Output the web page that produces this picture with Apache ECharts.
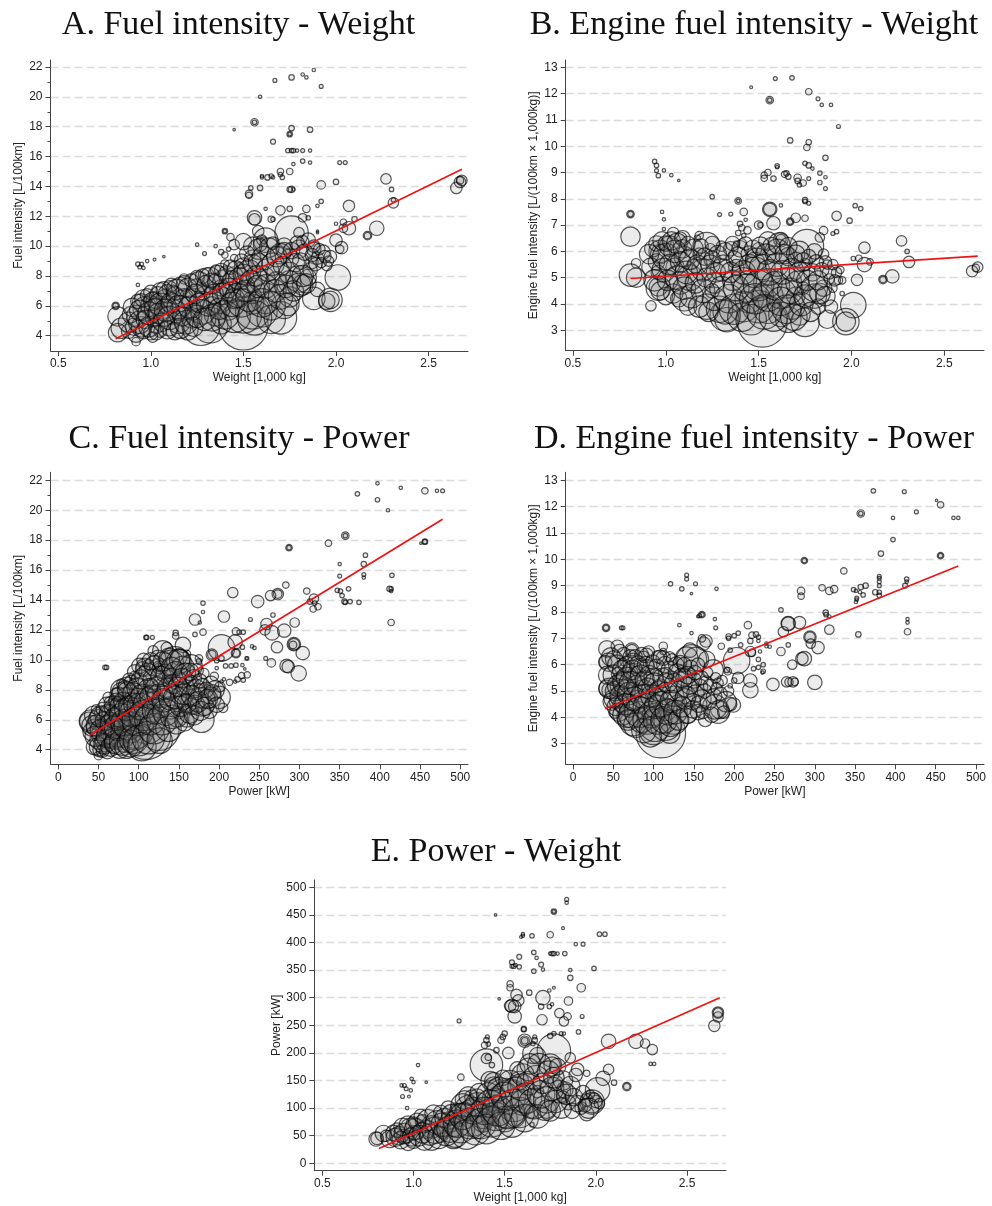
<!DOCTYPE html>
<html>
<head>
<meta charset="utf-8">
<style>html,body{margin:0;padding:0;background:#fff}#chart{width:992px;height:1206px}</style>
<script src="https://cdn.jsdelivr.net/npm/echarts@6/dist/echarts.min.js"></script>
</head>
<body>
<div id="chart"></div>
<script>
// each point: [x, y, sales]
const pointsA = [
[1.88,21.8,9],[1.82,21.5,9],[1.84,21.3,9],[1.76,21.3,25],[1.67,21.1,12],[1.92,20.7,12],[1.59,20,9],[1.56,18.3,49],[1.56,18.3,16],[1.45,17.8,4],[1.76,17.9,25],[1.86,17.8,25],[1.75,17.5,25],[1.75,17.5,9],[1.66,17,20],
[1.74,16.4,16],[1.76,16.4,16],[1.77,16.4,16],[1.79,16.4,9],[1.82,16.4,12],[1.86,16.4,9],[1.82,15.7,16],[1.86,15.6,9],[2.02,15.6,12],[2.05,15.6,12],[1.77,15.5,9],[1.7,15,36],[1.75,15,36],[1.7,14.8,16],[1.71,14.6,16],
[1.65,14.7,16],[1.6,14.7,9],[1.6,14.6,9],[1.63,14.6,25],[1.66,14.6,9],[2,14.3,25],[1.92,14.1,64],[2.27,14.5,100],[2.3,13.8,16],[1.76,13.8,36],[1.75,13.8,25],[1.77,13.8,9],[1.59,13.9,25],[1.54,13.9,16],[1.53,13.5,49],[1.53,13.4,36],
[1.92,13,16],[1.9,12.7,9],[2.31,13.1,16],[2.31,12.9,100],[2.65,13.9,121],[2.67,14.3,121],[2.68,14.4,100],[2.67,14.4,49],[2.07,12.7,121],[1.62,12.5,9],[1.7,12.4,81],[1.75,12.5,25],[1.84,12.5,49],[1.82,11.9,64],[1.85,11.9,16],
[1.56,11.9,196],[1.56,11.8,121],[1.65,11.8,36],[1.66,11.8,16],[2.1,11.8,25],[2.04,11.6,36],[2,11.5,9],[2.07,11.2,169],[2.04,11.2,64],[2.22,11.2,196],[2.17,10.7,64],[2.17,10.7,36],[1.9,11,4],[1.9,10.9,4],[1.76,10.9,1089],[1.8,10.9,100],[1.58,11,121],[1.4,11,25],[1.4,11,9],[1.43,10.6,49],
[1.25,10.1,9],[1.35,10,9],[1.29,9.5,12],[0.93,8.8,16],[0.95,8.8,12],[0.94,8.6,12],[0.96,8.55,9],[0.98,9,9],[1.02,9.1,6],[1.07,9.3,4],[0.93,7.4,9],[0.81,6,49],[0.81,6,25],
[0.82,5.3,361],[0.82,4.2,324],[0.84,4.5,400],[0.88,4.3,196],[0.92,3.6,64],[0.92,4.1,256],[0.95,4.6,400],[0.93,5.3,484],[0.97,5.8,576],[0.95,6.2,324],[1,6,400],[1.02,5.2,324],[1,4.2,196],[1.05,4.3,144],[1.03,4.7,256],[1.07,5.3,400],[1.08,6.5,324],[1.05,7,256],
[1.1,4.6,324],[1.12,5.6,576],[1.15,4.9,484],[1.17,6,400],[1.16,7.3,324],[1.2,4.4,400],[1.22,5.2,400],[1.23,6.4,484],[1.25,7.2,324],[1.27,4.6,1369],[1.28,5.6,576],[1.3,6.6,484],[1.32,4.7,1225],[1.33,7.5,400],[1.35,5.4,484],[1.37,6.4,676],[1.38,4.8,400],[1.4,7.6,576],[1.42,5.8,484],[1.43,6.9,400],[1.45,8,324],
[1.5,4.7,2400],[1.5,5.4,1296],[1.45,5.3,1024],[1.55,5.6,1156],[1.6,5.6,900],[1.65,5.1,784],[1.7,5.2,1024],[1.72,6,625],[1.75,6.6,400],[1.62,6.5,900],[1.55,7,625],[1.5,7.3,484],[1.6,7.8,676],[1.68,7.6,400],[1.75,7.6,484],[1.8,7.8,676],[1.82,7.4,400],[1.85,7.9,256],[1.88,6.5,484],[1.9,7.1,196],[1.95,6.3,256],[1.97,6.4,529],[1.97,6.4,289],[2.01,7.9,625],
[1.5,8.6,324],[1.55,9.2,256],[1.58,9.8,400],[1.62,10.4,576],[1.6,10.4,100],[1.61,10.4,36],[1.45,10.1,100],[1.5,10.3,256],[1.55,10,324],[1.7,9.5,400],[1.75,9.2,324],[1.72,10,256],[1.8,9.8,324],[1.82,10.3,144],[1.85,10.4,196],[1.88,9.8,196],[1.9,9.2,144],[1.93,9.6,196],[1.97,9.3,144],[1.95,8.7,100],[1.87,8.9,144],[2,10.4,144],[2.03,9.9,144],[2.02,9.8,64],
[1.38,9.6,25],[1.4,9.4,36],[1.42,9.8,16],[1.45,9.2,49],[1.4,8.8,64],[1.48,8.7,36],[1.3,8,256],[1.25,7.9,196],[1.18,7.8,100],[1.1,7.2,196],[1.35,8.4,100],[1.02,6.4,256],[1.08,6,196],[1.12,7,121],[1.55,6.2,484],[1.45,6.5,400],[1.38,7.2,256],[1.28,6.9,225],[1.2,6.6,256],[1.33,6,324],[1.23,5.6,256],[1.15,5.5,196],
[0.88,4.9,400],[0.89,5.4,256],[0.9,5.9,324],[0.91,4.6,289],[0.93,6.3,196],[0.94,4.9,484],[0.94,5.7,400],[0.96,6.5,289],[0.96,4.3,225],[0.97,5.1,324],[0.98,6.7,169],[0.99,4.6,400],[0.99,5.5,484],[1,6.9,196],[1.01,3.9,100],[1.01,6.3,324],[1.02,5.8,400],[1.03,4.2,196],[1.04,6.7,289],[1.04,5.5,400],[1.05,6.1,484],[1.06,4.9,324],[1.07,7.1,225],[1.08,5.7,484],[1.09,4.4,324],[1.09,6.8,324],[1.1,5.2,529],[1.11,6.2,400],[1.11,7.4,169],[1.13,4.3,289],[1.13,6.7,289],[1.14,7.1,400],[1.15,5.9,529],[1.16,4.5,400],[1.17,5.3,361],[1.18,6.5,361],[1.18,7.5,225],[1.19,4.9,529],[1.2,7.2,361],[1.21,5.9,484],[1.22,7.7,169],[1.23,4.6,361],[1.24,6.8,361],[1.25,5.3,484],[1.26,7.6,400],[1.26,6.2,361],[1.28,8,196],[1.29,5.1,484],[1.3,7.4,361],[1.31,6.1,529],[1.32,7.9,400],[1.33,5.2,676],[1.34,6.8,361],[1.35,7.6,256],[1.36,8.1,324],[1.37,5.8,441],[1.38,8.4,169],[1.39,6.8,441],[1.4,5.4,784],[1.41,8.1,289],[1.42,7.2,361],[1.43,8.6,196],[1.44,6.1,576],[1.44,7.7,361],[1.46,8.4,324],[1.47,6.7,576],[1.48,7.8,484],[1.49,6.2,784],[1.49,9,196],[1.5,8.1,400],[1.51,7,441],[1.52,9.5,225],[1.53,8.3,529],[1.53,6.5,676],[1.54,7.6,484],[1.55,8.8,361],[1.56,5.2,1156],[1.57,8,400],[1.58,7.3,484],[1.58,8.9,361],[1.59,10.1,169],[1.6,6.2,784],[1.61,9.2,529],[1.62,7.3,529],[1.63,8.4,484],[1.64,9.9,361],[1.65,6,784],[1.66,8.8,484],[1.66,10.2,144],[1.67,7,484],[1.68,9.3,400],[1.69,8.2,529],[1.7,6.6,576],[1.71,8.7,324],[1.72,9.7,256],[1.73,7.3,484],[1.74,6.1,484],[1.75,8.2,441],[1.76,9.7,256],[1.77,7,400],[1.78,8.9,324],[1.79,10.2,196],[1.8,7.4,529],[1.81,9,256],[1.82,8,441],[1.83,9.6,256],[1.84,7.5,361],[1.86,8.4,196],[1.87,9.4,169],[1.88,10,144],[1.89,8.8,169],[1.91,9.8,121],[1.92,8.9,100],[1.94,9.3,144],[1.96,9,100]
];
const pointsB = [
[1.46,12.24,6],[1.59,12.57,12],[1.68,12.6,16],[1.77,12.07,36],[1.56,11.75,49],[1.56,11.75,16],[1.82,11.8,12],[1.84,11.57,9],[1.89,11.57,9],[1.93,10.75,12],[1.67,10.22,25],[1.77,10.15,25],[1.76,9.95,36],[1.86,9.56,25],[0.94,9.42,16],[0.95,9.27,16],[0.95,9.07,12],[0.99,9.08,9],[0.96,8.88,16],[1.03,8.9,9],[1.07,8.7,4],
[1.75,9.35,16],[1.77,9.27,25],[1.79,9.15,9],[1.83,8.98,16],[1.86,8.82,9],[1.83,8.62,16],[1.86,8.39,12],[1.6,9.25,16],[1.6,9.2,9],[1.55,9,36],[1.53,8.9,36],[1.53,8.78,36],[1.58,8.77,25],[1.64,8.93,36],[1.65,8.97,25],[1.66,8.84,25],[1.71,8.8,49],[1.71,8.68,25],[1.72,8.53,16],[1.74,8.6,36],[1.77,8.77,12],
[1.25,8.08,16],[1.39,7.92,36],[1.39,7.92,9],[1.75,7.95,25],[1.75,7.9,16],[1.77,7.83,12],[1.62,7.75,9],[2.02,7.74,16],[2.05,7.63,16],[0.81,7.42,49],[0.81,7.42,25],[0.98,7.5,9],[0.99,7.22,9],[1.29,7.4,12],[1.35,7.42,12],[1.42,7.5,49],[1.56,7.6,196],[1.56,7.6,144],[1.92,7.35,81],[1.99,7.17,25],[1.7,7.28,81],[1.75,7.26,36],[1.67,7.13,49],[1.67,7.13,25],[1.58,7.07,169],
[1.9,6.68,12],[1.92,6.75,16],[1.85,6.79,64],[1.83,6.53,81],[2.27,6.4,100],[2.3,6,16],[2.07,6.14,121],[0.81,6.56,361],[2.31,5.6,121],[2.22,5.05,169],[2.17,4.93,64],[2.17,4.93,36],[2.65,5.25,121],[2.68,5.4,100],[2.67,5.37,49],[2.03,4.92,121],[2.01,3.96,625],[1.97,3.33,676],[1.97,3.33,361],[1.87,3.42,324],[1.89,3.9,169],[2.07,5.5,196],[2.1,5.6,36],[2.04,5.74,36],[2.01,5.73,16],[1.95,4.4,16],
[1.4,7.05,25],[1.41,6.9,36],[1.39,6.7,25],[1.42,6.6,16],[1.44,6.8,49],[1.5,7,64],[1.51,7,25],[1.43,7.2,9],[0.99,6.85,9],[1.04,6.7,121],[1.09,6.5,225],[1.08,6.5,144],[1.18,6.6,64],[1.17,6.5,36],[1.22,6.2,729],
[1.52,3.3,2400],[1.32,3.55,900],[1.32,3.7,576],[1.42,3.9,900],[1.22,3.9,625],[1.1,4.2,576],[1.08,4.8,484],[0.96,4.6,576],[0.96,4.65,324],[0.84,5.0,361],[0.84,5.55,81],[0.81,5.1,484],[0.92,3.93,100],[1.0,4.3,289],[1.13,5.0,625],[1.2,5.3,484],[1.26,4.8,400],[1.25,4.5,196],
[1.45,4.2,784],[1.5,3.9,1024],[1.55,3.8,784],[1.52,4.3,484],[1.62,3.6,576],[1.66,3.4,625],[1.68,3.9,625],[1.72,3.6,441],[1.75,3.3,784],[1.7,4.3,324],[1.62,4.4,900],[1.65,4.8,900],[1.8,4.3,576],[1.82,3.9,225],[1.83,4.4,400],[1.85,4.6,256],[1.74,4.6,144],[1.55,4.8,784],[1.42,4.9,625],[1.36,4.9,400],[1.3,5.3,484],
[0.97,6,484],[0.97,5.9,361],[0.95,5.6,256],[1.02,6.2,400],[0.96,5.2,196],[1.05,5.4,324],[1.1,5.8,400],[1.15,5.4,225],[1.18,5.9,144],[1.24,6.1,100],[1.3,6.2,100],[1.35,6.1,196],[1.37,5.7,256],[1.41,6.3,81],[1.38,6.3,25],[1.45,5.9,256],[1.48,5.6,361],[1.5,6.1,144],[1.55,6.4,324],[1.62,6.45,196],[1.62,6.45,100],[1.6,6,576],[1.58,5.9,256],[1.66,5.8,324],[1.7,5.7,196],[1.75,5.5,144],[1.76,6.2,1089],[1.72,6,400],[1.8,6,225],[1.86,5.6,144],[1.87,5.5,81],[1.92,5.2,100],[1.93,4.9,64],[1.9,4.6,64],[1.95,4.9,49],[1.88,4.95,100],[1.48,5.2,900],[1.38,5.4,225],[1.25,5.7,256],
[0.91,5.9,361],[0.92,5.4,324],[0.93,6.1,256],[0.94,4.9,441],[0.95,6.3,225],[0.97,4.5,324],[0.98,6.4,324],[0.99,5.3,529],[1,5.8,676],[1,6.3,225],[1.01,4.9,400],[1.02,5.5,400],[1.03,6.4,324],[1.04,4.4,361],[1.05,6,484],[1.06,5,529],[1.06,6.3,400],[1.07,4.2,256],[1.08,5.6,400],[1.09,6.1,324],[1.1,4.6,484],[1.11,5.2,484],[1.12,6.3,196],[1.12,3.9,289],[1.13,5.7,400],[1.14,4.3,529],[1.15,6.1,361],[1.16,4.8,400],[1.17,5.5,361],[1.18,3.9,441],[1.19,6.2,196],[1.2,4.5,529],[1.21,5.8,289],[1.22,5,361],[1.23,3.7,361],[1.24,5.5,361],[1.25,6.3,196],[1.26,4.2,529],[1.27,5.2,361],[1.28,5.9,289],[1.29,3.8,676],[1.3,4.6,529],[1.31,5.5,361],[1.32,6,289],[1.33,3.4,576],[1.34,4.2,784],[1.35,5.2,400],[1.36,6.3,196],[1.37,3.8,900],[1.38,4.6,625],[1.39,5.8,361],[1.4,6.1,256],[1.41,3.5,784],[1.42,5.2,529],[1.43,6.3,169],[1.44,4.6,784],[1.45,5.5,400],[1.46,3.4,900],[1.47,6.1,289],[1.48,4.2,900],[1.49,5.7,484],[1.5,4.7,900],[1.51,6.2,324],[1.52,5.4,625],[1.53,3.7,1156],[1.54,5.9,400],[1.55,4.3,900],[1.56,5.2,625],[1.57,6.2,289],[1.58,3.5,784],[1.59,4.7,784],[1.6,5.5,529],[1.61,6.3,441],[1.62,4.1,784],[1.63,5.2,529],[1.64,5.9,361],[1.65,3.8,784],[1.66,6.2,289],[1.67,4.5,625],[1.68,5.3,484],[1.69,3.5,676],[1.7,5.9,324],[1.71,4.8,529],[1.72,5.2,400],[1.73,4,529],[1.74,5.6,324],[1.75,4.3,484],[1.76,4.9,400],[1.77,5.8,196],[1.78,3.7,361],[1.79,5.2,289],[1.8,4.6,676],[1.81,5.6,196],[1.82,4.9,361],[1.84,5.3,196],[1.85,5.9,100],[1.86,4.3,361],[1.88,5.2,169],[1.9,5.5,100],[1.91,4.9,121],[1.94,5.3,49]
];
const pointsC = [
[397,21.8,9],[372,21.1,16],[397,20.7,16],[426,21.5,9],[456,21.3,36],[471,21.3,9],[478,21.3,12],[410,20,9],[357,18.3,49],[357,18.3,16],[287,17.5,36],[287,17.5,16],[336,17.8,36],[451,17.8,4],[456,17.9,25],[456,17.9,16],[382,17,16],[350,16.4,9],[380,16.4,25],[350,15.6,12],[380,15.7,12],[380,15.5,9],[415,15.65,16],
[283,15,36],[309,14.6,36],[347,14.65,16],[351,14.6,16],[353,14.3,16],[361,14.75,16],[412,14.75,25],[414,14.75,16],[414,14.6,9],[356,13.9,25],[357,13.85,16],[363,13.9,16],[374,13.85,16],[414,12.5,36],[318,14.1,81],[313,13.9,25],[319,13.8,16],[323,13.55,36],[317,13.4,36],[273,14.4,121],[273,14.4,64],[264,14.3,100],[248,13.9,144],[217,14.5,100],
[267,13,16],[239,12.7,12],[206,12.9,121],[170,12.7,121],[180,13.8,16],[180,13.2,9],[176,12.5,9],[180,11.85,36],[170,11.7,16],[146,11.8,25],[146,11.6,36],[110,11.5,16],[109,11.5,16],[117,11.5,12],[60,9.5,16],[58,9.5,16],[221,11.9,49],[225,11.85,16],[230,11.85,16],[294,12.5,81],[259,12.4,121],[257,12,100],[266,11.8,196],[281,11.95,169],[272,10.85,121],[293,11.05,169],[293,11.05,121],[292,11,49],[304,10.45,169],[265,9.8,64],[258,10.1,12],[284,9.6,169],[286,9.55,144],[299,9.1,225],
[241,10.9,9],[244,10.8,9],[235,10.1,9],[234,10.1,9],[203,10.8,676],[220,11.2,196],[221,10.45,81],[221,10.45,49],[229,10.85,16],[191,10.35,121],[191,10.35,64],[235,9,36],[228,8.95,36],[223,8.7,25],[220,8.55,9],[213,8.5,36],[230,8.65,16],[229,9.65,9],[232,9.4,4],[221,9.65,16],[215,9.6,16],[208,9.6,16],[203,10.1,25],[197,9.95,16],[197,9.45,9],[206,8.7,9],[203,8.55,9],
[155,11,225],[135,10.8,121],[130,10.6,400],[118,10.6,100],[150,10.2,256],[160,10.4,49],[175,10.1,49],[175,9.9,25],
[109,5,2400],[125,5.3,1600],[110,5.6,1296],[96,5.3,1296],[95,5,900],[85,4.9,1024],[80,5.1,784],[100,6,1024],[110,6.5,625],[65,5.2,625],[40,5.9,484],[38,5.9,324],[42,5.6,400],[50,6,400],[45,4.2,256],[50,4.2,324],[52,4,196],[50,3.6,64],[60,4.6,484],[55,5,484],[62,5.5,576],[70,4.8,484],[72,5.2,900],[75,6.6,400],[65,6.4,324],[55,6.4,256],[47,6.7,81],[45,5.5,256],[60,5.8,196],[90,5.3,625],[88,6.1,484],
[78,8,400],[70,7.2,144],[62,7.5,100],[78,7.9,289],[85,8.3,256],[72,7.7,144],[100,8.5,324],[108,9.5,324],[105,9.4,196],[112,9.7,100],[125,9.5,324],[125,9.5,144],[125,9.5,64],[145,9.9,841],[140,9.8,625],[150,9.9,576],[155,9.5,484],[165,9.6,484],[132,8,576],[132,7.9,256],[115,8.3,196],[150,7.6,256],[110,7.5,400],[100,7.5,324],[90,7.3,256],[88,8.7,144],[95,8.9,100],[85,7.6,289],[120,7.3,324],[125,6.9,484],[140,6.8,484],[150,6.4,100],[160,6.2,400],[148,6.2,400],[178,6,625],[180,7.6,576],[178,7.2,784],[190,7.5,400],[200,7.5,484],[195,8,324],[190,8.4,225],[172,7.9,256],[165,8.5,196],[150,8.7,225],[155,8.1,196],[140,9,144],[135,8.6,121],[170,7,361],[155,7.2,256],[165,6.9,256],[205,6.8,81],
[42,5.2,324],[44,6.3,324],[46,4.9,400],[48,5.6,441],[50,4.6,289],[52,6.2,400],[53,5.3,441],[55,3.9,144],[56,6.7,196],[57,4.4,400],[58,5.9,361],[60,7,225],[61,3.9,225],[62,4.9,529],[63,6.4,361],[65,4.2,361],[66,7.1,196],[67,5.7,529],[68,6.8,289],[69,4.4,361],[70,6.1,400],[72,7.3,196],[73,4.5,576],[74,5.5,676],[75,7.7,196],[76,4.1,400],[77,6.9,400],[78,6.3,529],[79,8.4,100],[80,4.5,676],[81,7.2,361],[82,5.8,676],[83,8.1,225],[84,6.7,484],[85,4.2,529],[86,7.9,361],[87,5.6,784],[88,6.9,400],[90,4.4,676],[91,8.5,196],[92,6.4,676],[93,7.8,400],[94,4.7,784],[95,9.2,196],[96,7,529],[97,5.9,784],[98,8.1,400],[100,4.6,900],[101,9.6,225],[102,6.9,676],[103,8.7,361],[104,4.2,784],[105,7.6,529],[106,10,169],[107,6.3,900],[108,8.9,400],[110,7,676],[111,9.2,289],[112,4.8,1024],[113,8,484],[114,6,900],[115,9.9,289],[116,7.5,529],[118,8.7,400],[119,5.4,900],[120,9.6,400],[121,6.6,676],[122,8.1,484],[124,10.1,256],[125,7.6,529],[126,4.6,625],[128,8.9,400],[129,6,900],[130,9.9,361],[131,7.3,529],[133,9.1,324],[134,6.5,676],[136,8.1,400],[137,5.4,625],[138,10.1,400],[139,7.4,484],[141,9.5,400],[142,6.2,529],[143,8.4,361],[145,7.5,484],[146,9.1,529],[147,5.8,484],[149,8.2,361],[151,10,400],[152,6.9,400],[154,8.8,361],[156,7.7,400],[157,5.9,361],[158,9.1,400],[160,7.1,361],[161,8.3,324],[163,6.4,361],[164,9.2,289],[166,7.6,400],[168,8.8,256],[169,6.3,361],[171,8.1,324],[172,9.3,169],[174,7.2,400],[176,8.6,196],[177,6.6,361],[179,8.2,256],[181,9.1,100],[182,6.9,324],[184,8,225],[186,7.4,361],[188,6.6,225],[192,7.8,256],[194,8.9,64],[197,7,225],[201,8.2,100]
];
const pointsD = [
[372.6,12.6,16],[411,12.57,12],[451,12.24,4],[456,12.07,36],[426,11.8,12],[397,11.57,9],[472,11.57,9],[478,11.57,9],[357,11.74,49],[357,11.74,16],[397,10.75,16],[382,10.22,25],[456,10.14,36],[456,10.14,16],[287,9.95,36],[287,9.95,16],[336,9.56,36],[141,9.4,12],[141,9.25,12],[121,9.07,16],[152,9.07,12],[135,8.88,16],[178,8.88,9],[147,8.7,4],
[380,9.35,12],[380,9.28,12],[380,9.15,12],[380,9,12],[414,9.25,16],[414,9.15,9],[412,9,20],[363,9,25],[357,8.95,25],[348,8.85,16],[351,8.8,9],[356,8.75,9],[360,8.65,16],[375,8.75,25],[380,8.75,16],[380,8.63,16],[309,8.92,36],[324,8.87,49],[318,8.8,49],[283,8.8,49],[283,8.6,36],[352,8.53,12],[352,8.47,9],[351,8.38,9],[258,8.08,16],[313.5,7.98,25],[314,7.9,16],[318,7.83,9],[160,7.9,36],[160,7.9,16],[157,7.86,12],[155,7.83,6],[176,7.73,9],[132,7.5,9],[147,7.2,9],[177,7.4,12],[217,7.5,49],[415,7.73,9],[415,7.6,9],[415,7.25,36],[354,7.15,25],[41,7.4,49],[41,7.4,25],[60,7.4,12],[62,7.4,12],
[267,7.56,196],[267,7.56,169],[281,7.6,144],[261,7.25,100],[318,7.33,81],[294,7.05,144],[294,7.05,100],[295,6.8,81],[304,6.65,144],[267,6.75,16],[258,6.5,64],[287,6.23,196],[284,6.23,144],[272,6,81],[248,5.25,144],[300,5.33,196],[265,5.35,100],[268,5.34,64],[273,5.35,100],[275,5.35,49],[220,5.03,225],[220,5.4,169],[205,7.2,16],[200,7.1,16],[193,7.07,25],[193,7,16],[227,7.15,25],[222,7.12,36],[230,7.05,16],[220,6.9,25],[230,6.9,9],[240,6.8,9],[244,6.68,9],[240,6.7,9],[195,6.55,16],[184,6.7,36],[208,6.75,16],[232,6.5,9],[230,6.2,16],[236,6,16],[236,5.75,16],[235,5.7,9],[230,5.9,16],[224,5.85,16],[203,6.15,676],[220,6.5,100],[222,6.45,49],[192,5.75,49],[191,5.8,25],[205,5.5,121],[200,5.4,25],[195,5.2,16],
[109,3.4,2400],[102,3.7,1024],[96,3.3,484],[75,3.8,676],[67,4,400],[125,3.9,784],[141,4.15,400],[164,3.9,169],[180,4.2,484],[182,4.3,324],[176,4.4,576],[199,4.47,196],[195,4.5,169],[190,4.6,400],[52,4.2,144],[50,4.7,324],[54,4.6,196],[42,5.1,256],[46,5.03,256],[65,5.03,400],[79,5.55,400],[87,5,484],[108,5.15,256],[125,4.8,400],[141,5.15,400],[157,5.15,256],[174,5.8,400],[147,6.18,900],[141,6.25,484],[153,6.2,576],[162,6.8,169],[145,6.55,196],[166,6.2,256],[135,5.85,49],[124,5.55,100],[112,6.7,64],[112,6.25,196],[91,6.35,196],[75,6.05,400],[73,6.55,196],[73,6.55,121],[55,6.7,144],[42,6.6,256],[44,6.1,324],[40,6.1,169],[63,6.1,49],[56,5.65,169],
[60,5.4,324],[70,5.7,256],[82,5.9,324],[92,5.9,225],[100,5.5,361],[115,5.6,225],[128,6,225],[138,5.5,256],[150,5.4,225],[165,5.3,196],[178,5.1,121],[180,5.3,100],[160,4.7,324],[148,4.6,256],[140,4.8,400],[115,4.3,484],[95,4.5,625],[80,4.6,484],[70,4.4,400],[60,4.5,256],[105,4.7,400],[55,5.2,196],[75,5,324],[130,4.5,324],[155,4.2,225],[85,3.9,625],[115,3.7,900],[120,3.4,400],[100,4.1,484],[88,6.3,121],[105,6.3,144],[120,6.3,100],[112,6.5,36],[165,6.9,144],[160,7,49],
[43,5.6,324],[45,5.1,400],[47,6.3,324],[48,4.6,289],[50,5.6,400],[51,6.2,289],[52,5,361],[53,4.4,289],[55,6,361],[56,5.2,441],[57,4.2,324],[58,6.5,196],[59,4.8,441],[61,5.8,361],[62,4.1,400],[63,6.4,169],[64,5.3,529],[65,4.5,441],[66,6,256],[67,5.5,441],[68,3.9,400],[69,4.9,484],[71,6.3,196],[72,5.3,529],[73,4.1,676],[74,5.8,361],[76,4.7,529],[77,6.3,196],[78,3.7,576],[80,5.2,441],[81,6,289],[83,4.2,900],[84,5.6,400],[85,6.4,169],[86,4.8,529],[88,3.5,576],[89,5.4,361],[90,6,256],[91,4.4,676],[92,3.9,784],[93,5.1,400],[94,6.5,121],[95,5.6,361],[97,4.1,676],[98,4.8,484],[99,6.1,196],[100,3.5,784],[101,5.3,400],[103,4.4,529],[104,5.9,256],[105,3.9,784],[107,5,400],[108,6.3,169],[110,4.5,625],[111,5.5,361],[113,3.9,676],[114,6,256],[116,4.9,484],[117,5.3,361],[118,4.2,625],[120,5.8,289],[121,3.7,484],[122,4.6,484],[123,6.2,121],[126,5.3,361],[127,4.2,529],[129,5.7,289],[131,3.9,400],[132,5,361],[133,6.1,169],[135,4.4,400],[136,5.5,361],[138,6,196],[139,4.7,400],[142,5.6,289],[143,4.1,289],[145,5.2,289],[146,5.9,196],[149,4.3,289],[151,5.7,196],[152,4.9,289],[155,6,169],[156,4.5,256],[159,5.5,196],[161,4.2,169],[163,5,196],[167,5.7,100],[168,4.6,256],[170,5.2,169],[172,4.1,225],[175,4.8,225],[177,5.5,100],[183,4.9,169],[185,5.4,100],[187,4.2,144],[193,5,100]
];
const pointsE = [
[1.84,478,12],[1.84,472,9],[1.45,450,4],[1.77,456,25],[1.77,456,9],[1.82,426,6],[2.02,415,16],[2.05,415,16],[1.75,414,36],[1.65,412,16],[1.6,415,9],[1.6,412,9],[1.59,410,6],[1.89,397,9],[1.93,397,12],[1.58,374,20],[1.66,382,16],[1.675,372,9],[1.75,380,9],[1.77,380,16],[1.76,380,16],[1.79,380,9],[1.83,380,16],
[1.54,364,20],[1.54,357,12],[1.55,357,16],[1.56,359,9],[1.58,356,16],[1.7,360,20],[1.66,348,16],[1.71,351,9],[1.86,350,9],[1.99,353,16],[1.86,336,25],[1.53,325,36],[1.53,318,36],[1.92,318,64],[1.635,309,25],[1.745,313,9],[1.77,318,6],[1.47,298,4],[1.71,300,196],[1.565,305,121],[1.575,295,121],[1.85,294,64],[1.54,285,169],[1.53,285,121],[1.555,284,144],[1.7,284,25],[1.745,284,16],[1.76,288,9],[1.8,272,81],[1.845,266,49],[1.825,257,81],[1.705,260,100],[1.555,266,169],[1.925,266,12],[1.25,258,12],[1.905,238,16],[2.67,273,121],[2.67,273,81],[2.67,265,100],[2.65,249,121],[2.07,221,196],[2.22,221,196],[2.27,217,81],[2.31,206,100],[2.3,180,9],[2.32,180,9],[2.17,139,64],[2.17,139,36],[2.07,170,100],[2.04,154,196],[2.1,146,25],[1.95,163,36],
[1.025,178,9],[1.07,147,4],[0.99,153,9],[1,147,9],[0.935,141,9],[0.95,141,12],[0.96,135,12],[0.985,132,9],[0.94,121,12],[0.975,121,6],[0.965,100,9],[1.26,156,36],[1.5,235,25],[1.49,229,25],[1.48,223,36],[1.405,229,12],[1.4,223,25],[1.41,216,16],[1.39,214,36],[1.605,243,25],[1.605,243,16],[1.61,222,169],[1.61,222,81],[1.61,222,36],[1.665,229,12],[1.665,223,25],[1.655,217,16],[1.77,235,16],[1.75,231,25],[1.81,235,12],[1.825,235,9],
[1.77,204,1089],[1.86,191,100],[1.4,178,1024],[1.4,190,100],[1.41,192,36],[1.43,178,25],[1.455,205,25],[1.52,200,121],[1.655,199,400],[1.68,195,256],[1.75,178,484],[1.76,178,256],
[1.51,109,2400],[1.52,120,1156],[1.55,105,1024],[1.6,110,625],[1.45,115,484],[1.42,150,324],[1.44,140,324],[1.46,125,256],[1.58,150,324],[1.63,170,484],[1.68,130,144],[1.72,100,576],[1.73,98,324],[1.65,95,196],[1.8,130,484],[1.83,133,256],[1.78,145,225],[1.85,110,196],[1.82,120,144],[1.9,170,144],[1.95,90,196],[1.92,100,144],[1.98,111,576],[1.98,110,400],[1.95,115,144],[2,112,144],[2.01,133,576],[1.97,125,64],
[0.795,44,196],[0.8,45,144],[0.835,54,256],[0.85,50,121],[0.92,50,324],[0.94,50,144],[0.96,48,144],[0.97,38,256],[1,42,256],[1,55,196],[0.98,65,324],[1,70,225],[1.05,75,196],[1.07,62,324],[1.1,42,400],[1.1,66,484],[1.15,52,225],[1.16,60,256],[1.22,45,400],[1.22,65,324],[1.2,75,400],[1.25,80,196],[1.28,115,324],[1.3,100,625],[1.32,82,1296],[1.35,65,484],[1.38,85,576],[1.38,75,400],[1.28,95,256],[1.23,100,100],[1.25,90,400],[1.32,120,196],[1.4,105,256],[1.35,120,256],[1.42,90,400],[1.45,85,784],[1.65,70,16],[1.5,80,625],[1.55,85,484],
[0.87,44,289],[0.89,55,225],[0.9,47,324],[0.91,60,196],[0.93,42,289],[0.94,66,289],[0.95,54,400],[0.97,70,289],[0.99,48,324],[1.01,62,441],[1.02,75,289],[1.03,50,400],[1.04,86,169],[1.05,55,400],[1.06,40,324],[1.08,78,441],[1.09,52,441],[1.11,90,289],[1.12,60,676],[1.13,74,529],[1.14,47,484],[1.15,92,196],[1.16,70,529],[1.17,82,361],[1.18,55,625],[1.19,100,196],[1.2,62,676],[1.21,88,400],[1.23,52,625],[1.24,72,729],[1.26,62,729],[1.27,105,529],[1.27,85,676],[1.29,52,841],[1.3,122,324],[1.31,72,900],[1.33,95,676],[1.34,60,841],[1.35,106,576],[1.36,128,324],[1.37,72,900],[1.39,95,729],[1.4,62,841],[1.41,125,529],[1.42,108,729],[1.43,75,900],[1.44,148,324],[1.46,95,900],[1.47,135,529],[1.48,68,729],[1.49,155,225],[1.5,122,729],[1.52,92,1024],[1.53,148,484],[1.54,72,729],[1.56,128,900],[1.57,170,225],[1.58,92,900],[1.59,138,676],[1.6,160,484],[1.61,82,729],[1.62,118,900],[1.63,145,529],[1.64,180,400],[1.66,108,900],[1.67,155,576],[1.68,85,529],[1.69,178,529],[1.7,125,729],[1.71,145,400],[1.73,115,676],[1.74,165,484],[1.75,95,400],[1.76,135,529],[1.77,155,400],[1.78,112,484],[1.79,175,256],[1.81,100,400],[1.82,150,361],[1.84,125,400],[1.86,140,361],[1.87,95,225],[1.88,120,289],[1.89,160,169],[1.9,108,256],[1.93,128,196],[1.94,105,169],[1.96,100,400],[1.99,118,100],[2.02,108,100]
];

const lineA = [[0.81, 3.8], [2.68, 15.15]];
const lineB = [[0.81, 4.97], [2.68, 5.82]];
const lineC = [[40, 5.0], [478, 19.4]];
const lineD = [[40, 4.33], [478, 9.75]];
const lineE = [[0.81, 27], [2.68, 300]];

const weightTicks = [0.5, 1.0, 1.5, 2.0, 2.5];
const powerXTicks = [0, 50, 100, 150, 200, 250, 300, 350, 400, 450, 500];
const fuelTicks = [4, 6, 8, 10, 12, 14, 16, 18, 20, 22];
const fuelMinorTicks = [5, 7, 9, 11, 13, 15, 17, 19, 21];
const engineTicks = [3, 4, 5, 6, 7, 8, 9, 10, 11, 12, 13];
const powerYTicks = [0, 50, 100, 150, 200, 250, 300, 350, 400, 450, 500];

const panels = [
  {title: 'A. Fuel intensity - Weight', tx: 233.5, ty: 3, left: 50.5, top: 60, right: 468, bottom: 351,
   xr: [0.458, 2.713], yr: [2.975, 22.47], xt: weightTicks, yt: fuelTicks, ym: fuelMinorTicks,
   xn: 'Weight [1,000 kg]', yn: 'Fuel intensity [L/100km]', gap: 26, pts: pointsA, line: lineA, fmt: v => v.toFixed(1)},
  {title: 'B. Engine fuel intensity - Weight', tx: 749, ty: 3, left: 565.7, top: 60, right: 984, bottom: 350.7,
   xr: [0.461, 2.714], yr: [2.224, 13.278], xt: weightTicks, yt: engineTicks, ym: null,
   xn: 'Weight [1,000 kg]', yn: 'Engine fuel intensity [L/(100km × 1,000kg)]', gap: 26, pts: pointsB, line: lineB, fmt: v => v.toFixed(1)},
  {title: 'C. Fuel intensity - Power', tx: 234, ty: 417, left: 50.5, top: 472.3, right: 468, bottom: 764.3,
   xr: [-9.7, 509.6], yr: [3.024, 22.535], xt: powerXTicks, yt: fuelTicks, ym: fuelMinorTicks,
   xn: 'Power [kW]', yn: 'Fuel intensity [L/100km]', gap: 26, pts: pointsC, line: lineC, fmt: v => v},
  {title: 'D. Engine fuel intensity - Power', tx: 749, ty: 417, left: 565.7, top: 472.3, right: 984, bottom: 764.3,
   xr: [-9.06, 509.9], yr: [2.218, 13.304], xt: powerXTicks, yt: engineTicks, ym: null,
   xn: 'Power [kW]', yn: 'Engine fuel intensity [L/(100km × 1,000kg)]', gap: 26, pts: pointsD, line: lineD, fmt: v => v},
  {title: 'E. Power - Weight', tx: 491, ty: 830, left: 314.3, top: 880, right: 726, bottom: 1170.7,
   xr: [0.456, 2.714], yr: [-13.4, 513.2], xt: weightTicks, yt: powerYTicks, ym: null,
   xn: 'Weight [1,000 kg]', yn: 'Power [kW]', gap: 32, pts: pointsE, line: lineE, fmt: v => v.toFixed(1)}
];

const axisColor = '#444';
const textColor = '#222';
const sansFont = '"Liberation Sans", Arial, sans-serif';

let option = {animation: false, backgroundColor: '#fff', title: [], grid: [], xAxis: [], yAxis: [], series: []};

panels.forEach((p, i) => {
  option.title.push({
    text: p.title, left: p.tx, top: p.ty, textAlign: 'center',
    textStyle: {fontFamily: '"Liberation Serif", serif', fontWeight: 'normal', fontSize: 34, color: '#111'}
  });
  option.grid.push({left: p.left, top: p.top, width: p.right - p.left, height: p.bottom - p.top});

  option.xAxis.push({
    type: 'value', gridIndex: i, min: p.xr[0], max: p.xr[1],
    name: p.xn, nameLocation: 'middle', nameGap: 21,
    nameTextStyle: {fontFamily: sansFont, fontSize: 12, color: textColor},
    axisLine: {onZero: false, lineStyle: {color: axisColor, width: 1}},
    axisTick: {customValues: p.xt, length: 5, lineStyle: {color: axisColor}},
    axisLabel: {customValues: p.xt, margin: 7, fontFamily: sansFont, fontSize: 12, color: textColor, formatter: p.fmt, hideOverlap: false, showMinLabel: true, showMaxLabel: true},
    splitLine: {show: false}
  });

  option.yAxis.push({
    type: 'value', gridIndex: i, min: p.yr[0], max: p.yr[1],
    name: p.yn, nameLocation: 'middle', nameGap: p.gap,
    nameTextStyle: {fontFamily: sansFont, fontSize: 12, color: textColor},
    axisLine: {onZero: false, lineStyle: {color: axisColor, width: 1}},
    axisTick: {customValues: p.yt, length: 5, lineStyle: {color: axisColor}},
    axisLabel: {customValues: p.yt, margin: 8, fontFamily: sansFont, fontSize: 12, color: textColor, hideOverlap: false},
    splitLine: {show: false}
  });

  option.series.push({
    type: 'scatter', xAxisIndex: i, yAxisIndex: i, silent: true, clip: false,
    data: p.pts,
    symbolSize: d => Math.sqrt(d[2]) + 0.5,
    itemStyle: {color: 'rgba(110,110,110,0.16)', borderColor: 'rgba(0,0,0,0.82)', borderWidth: 1.2},
    // horizontal dashed grid goes under the circles
    markLine: {
      silent: true, symbol: 'none', z: 0, label: {show: false},
      lineStyle: {color: '#dcdcdc', width: 1.4, type: [8, 4]},
      data: p.yt.map(v => ({yAxis: v}))
    },
    z: 2
  });
  option.series.push({
    type: 'line', xAxisIndex: i, yAxisIndex: i, silent: true, data: p.line,
    showSymbol: false, lineStyle: {color: '#f01010', width: 1.6}, z: 5
  });
});

// minor ticks on the fuel axes, extra axis sharing the grid
panels.forEach((p, i) => {
  if (!p.ym) return;
  let idx = option.yAxis.length;
  option.yAxis.push({
    type: 'value', gridIndex: i, min: p.yr[0], max: p.yr[1], position: 'left',
    axisLine: {show: false, onZero: false},
    axisTick: {customValues: p.ym, length: 3, lineStyle: {color: axisColor}},
    axisLabel: {show: false},
    splitLine: {show: false}
  });
  option.series.push({type: 'line', xAxisIndex: i, yAxisIndex: idx, data: [], silent: true});
});

echarts.init(document.getElementById('chart'), null, {renderer: 'canvas'}).setOption(option);
</script>
</body>
</html>
